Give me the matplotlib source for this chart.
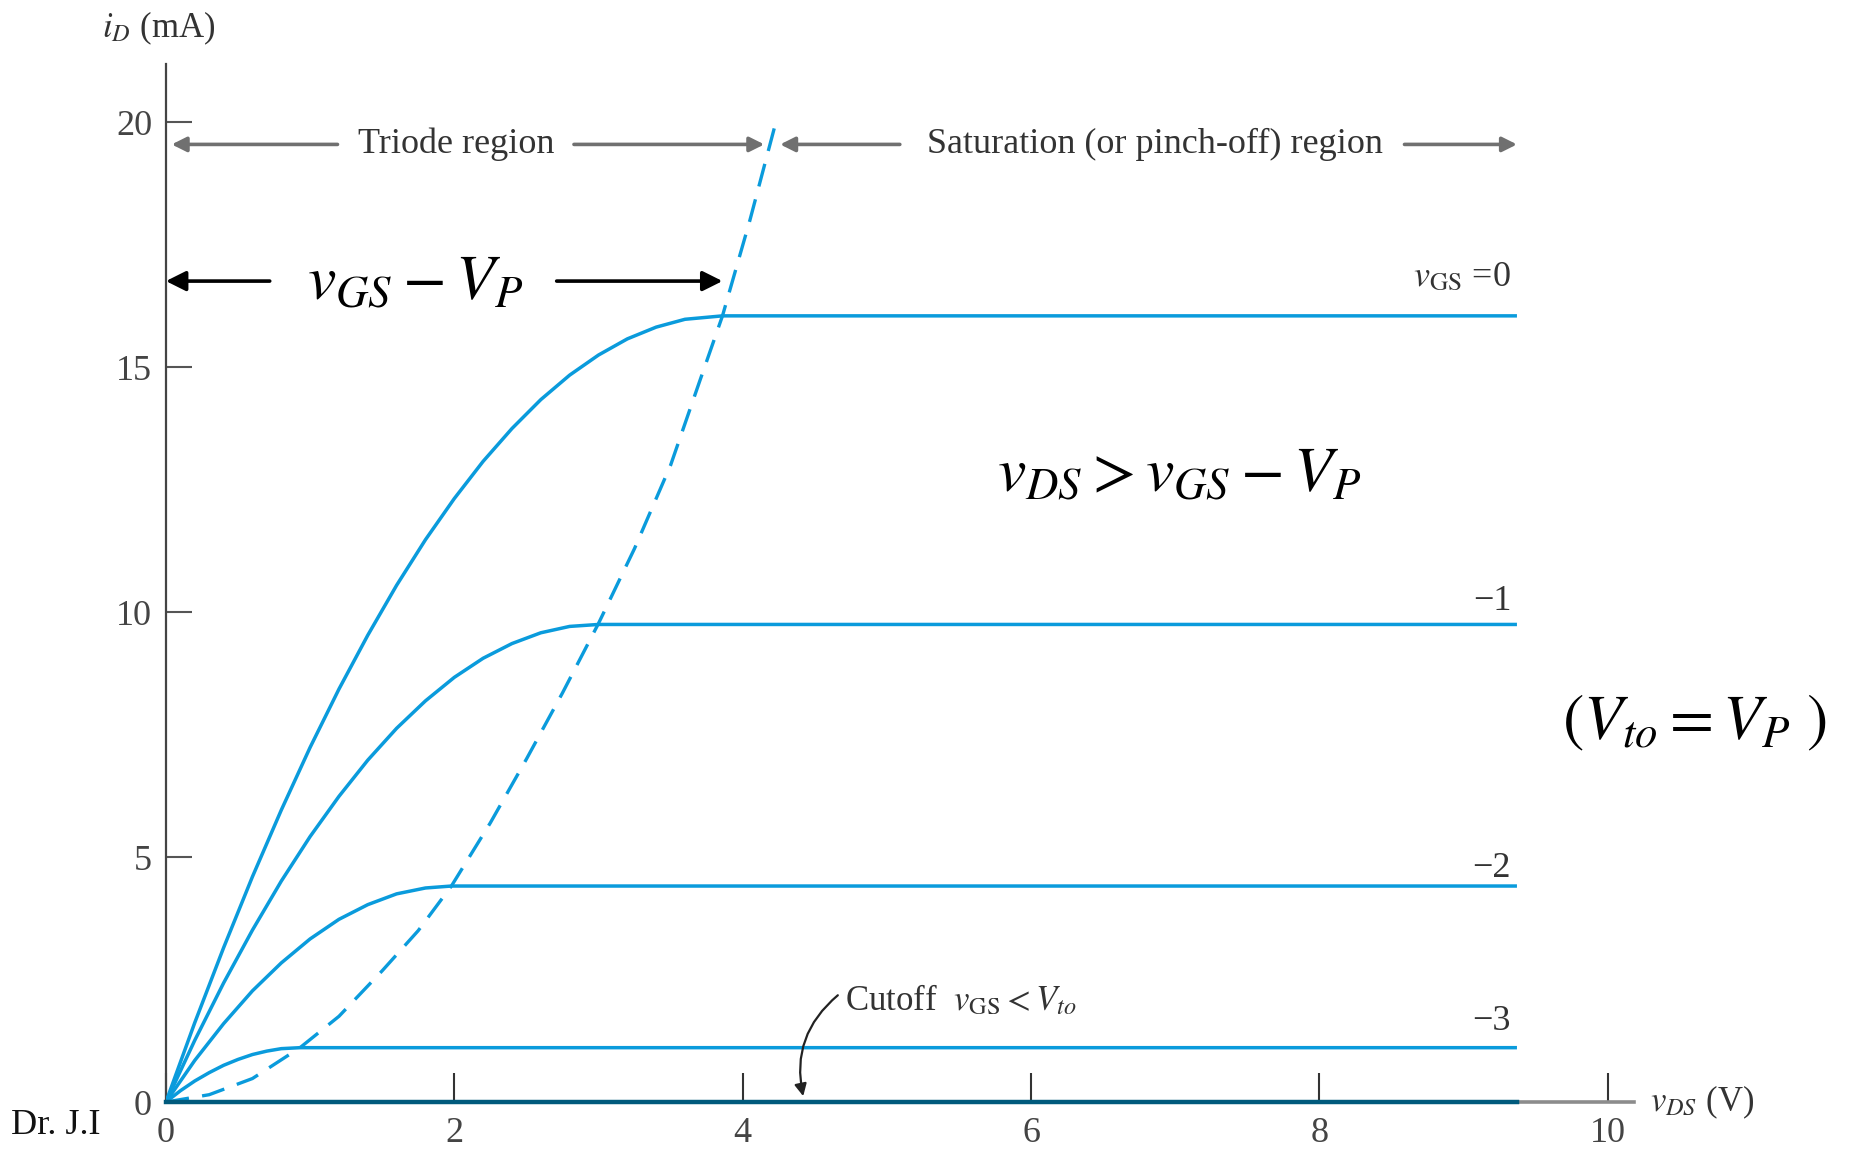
import numpy as np
import matplotlib
matplotlib.use('Agg')
from matplotlib import pyplot as plt

plt.rcParams['font.family'] = ['Liberation Serif', 'DejaVu Serif']
plt.rcParams['mathtext.fontset'] = 'stix'

# drain characteristics, vDS in V and iD in mA, one curve per vGS step
vgs_labels = [r'$v_{\rm GS}$ =0', '\u22121', '\u22122', '\u22123']

vds_0 = [0, 0.2, 0.4, 0.6, 0.8, 1.0, 1.2, 1.4, 1.6, 1.8, 2.0, 2.2, 2.4, 2.6, 2.8,
         3.0, 3.2, 3.4, 3.6, 3.86, 9.37]
id_0 = [0, 1.62, 3.15, 4.6, 5.96, 7.24, 8.43, 9.53, 10.55, 11.48, 12.32, 13.08, 13.75,
        14.34, 14.84, 15.25, 15.58, 15.82, 15.98, 16.05, 16.05]

vds_1 = [0, 0.2, 0.4, 0.6, 0.8, 1.0, 1.2, 1.4, 1.6, 1.8, 2.0, 2.2, 2.4, 2.6, 2.8, 3.0, 9.37]
id_1 = [0, 1.26, 2.43, 3.51, 4.51, 5.42, 6.24, 6.98, 7.63, 8.19, 8.67, 9.06, 9.36,
        9.58, 9.71, 9.75, 9.75]

vds_2 = [0, 0.2, 0.4, 0.6, 0.8, 1.0, 1.2, 1.4, 1.6, 1.8, 1.98, 9.37]
id_2 = [0, 0.85, 1.6, 2.27, 2.84, 3.33, 3.73, 4.03, 4.25, 4.37, 4.41, 4.41]

vds_3 = [0, 0.1, 0.2, 0.3, 0.4, 0.5, 0.6, 0.7, 0.8, 0.93, 9.37]
id_3 = [0, 0.23, 0.43, 0.6, 0.75, 0.87, 0.97, 1.04, 1.09, 1.11, 1.11]

# cutoff (vGS < Vto) lies on the axis
vds_off = [0, 9.37]
id_off = [0, 0]

# pinch-off boundary vDS = vGS - VP
vds_pinch = [0, 0.3, 0.6, 0.93, 1.2, 1.5, 1.75, 1.98, 2.25, 2.5, 2.75, 3.0, 3.25,
             3.5, 3.7, 3.86, 4.05, 4.23]
id_pinch = [0, 0.15, 0.48, 1.11, 1.75, 2.68, 3.5, 4.41, 5.7, 7.0, 8.35, 9.77, 11.3,
            13.0, 14.7, 16.05, 18.0, 20.0]

xticks = [0, 2, 4, 6, 8, 10]
yticks = [0, 5, 10, 15, 20]

blue = '#0a9bdc'

fig = plt.figure(figsize=(18.58, 11.5), dpi=100)
ax = fig.add_axes([0.0893, 0.0417, 0.790, 0.903])

for xs, ys in [(vds_0, id_0), (vds_1, id_1), (vds_2, id_2), (vds_3, id_3)]:
    ax.plot(xs, ys, color=blue, lw=2.5, solid_capstyle='butt', solid_joinstyle='round', zorder=3)
ax.plot(vds_pinch, id_pinch, color=blue, lw=2.4, linestyle=(0, (7, 4)), zorder=3)
ax.plot(vds_off, id_off, color='#005a7c', lw=3.2, clip_on=False, zorder=4)

ax.set_xlim(0, 10.18)
ax.set_ylim(0, 21.2)
ax.set_xticks(xticks)
ax.set_yticks(yticks)
ax.spines['top'].set_visible(False)
ax.spines['right'].set_visible(False)
ax.spines['left'].set_color('#444444')
ax.spines['left'].set_linewidth(1.6)
ax.spines['bottom'].set_color('#8c8c8c')
ax.spines['bottom'].set_linewidth(2.6)
ax.tick_params(axis='x', direction='in', length=21, width=1.5, color='#333333',
               pad=11, labelsize=26, labelcolor='#444444')
ax.tick_params(axis='y', direction='in', length=19, width=1.5, color='#555555',
               pad=10, labelsize=26, labelcolor='#444444')

# axis titles
ax.text(-0.44, 21.92, r'$i_D$ (mA)', fontsize=25, color='#333333', ha='left', va='center', clip_on=False)
ax.text(10.29, 0.0, r'$v_{DS}$ (V)', fontsize=25, color='#333333', ha='left', va='center', clip_on=False)

# curve labels
label_y = [16.83, 10.22, 4.77, 1.65]
for lab, ly in zip(vgs_labels, label_y):
    ax.text(9.33, ly, lab, fontsize=26, color='#333333', ha='right', va='center')

# region arrows along the top
gray = dict(arrowstyle='-|>', color='#707070', lw=2.6, mutation_scale=22, shrinkA=0, shrinkB=0)
ax.annotate('', xy=(0.04, 19.55), xytext=(1.19, 19.55), arrowprops=gray)
ax.annotate('', xy=(4.15, 19.55), xytext=(2.83, 19.55), arrowprops=gray)
ax.text(2.01, 19.55, 'Triode region', fontsize=26, color='#333333', ha='center', va='center')
ax.annotate('', xy=(4.26, 19.55), xytext=(5.09, 19.55), arrowprops=gray)
ax.annotate('', xy=(9.37, 19.55), xytext=(8.59, 19.55), arrowprops=gray)
ax.text(6.86, 19.55, 'Saturation (or pinch-off) region', fontsize=26, color='#333333', ha='center', va='center')

# vGS - VP span
black = dict(arrowstyle='-|>', color='black', lw=2.6, mutation_scale=30, shrinkA=0, shrinkB=0)
ax.annotate('', xy=(0.0, 16.76), xytext=(0.72, 16.76), arrowprops=black)
ax.annotate('', xy=(3.86, 16.76), xytext=(2.71, 16.76), arrowprops=black)
ax.text(1.73, 16.39, r'$v_{GS} - V_P$', fontsize=46, ha='center', va='baseline')

ax.text(7.03, 12.47, r'$v_{DS} > v_{GS} - V_P$', fontsize=46, ha='center', va='baseline')
ax.text(9.68, 7.41, r'$(V_{to} = V_P\ )$', fontsize=46, ha='left', va='baseline', clip_on=False)

# cutoff note
ax.annotate('', xy=(4.42, 0.12), xytext=(4.66, 2.18),
            arrowprops=dict(arrowstyle='-|>', color='#222222', lw=1.6, mutation_scale=18,
                            connectionstyle='arc3,rad=0.3', shrinkA=0, shrinkB=0))
ax.text(4.71, 2.06, r'Cutoff  $v_{\rm GS} < V_{to}$', fontsize=25, color='#333333', ha='left', va='center')

fig.text(0.006, 0.021, 'Dr. J.I', fontsize=26, color='#111111', ha='left', va='center')

fig.savefig('out.png', dpi=100, facecolor='white')
